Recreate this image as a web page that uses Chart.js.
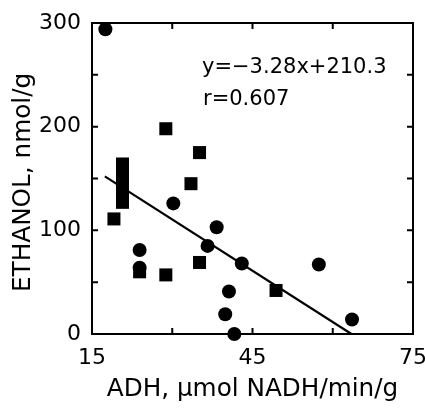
<!DOCTYPE html>
<html>
<head>
<meta charset="utf-8">
<script src="https://cdn.jsdelivr.net/npm/chart.js@4/dist/chart.umd.min.js"></script>
<style>
  html, body { margin: 0; padding: 0; background: #fff; }
  #wrap { width: 425px; height: 408px; }
</style>
</head>
<body>
<div id="wrap"><canvas id="c" width="425" height="408"></canvas></div>
<script>
// === Data ===
const circleX = [17.5, 30.2, 38.3, 36.6, 23.9, 23.9, 43.0, 57.4, 40.6, 39.9, 41.6, 63.6];
const circleY = [294, 126, 103, 85, 81, 64, 68, 67, 41, 19, 0, 14];
const squareX = [28.8, 35.1, 33.5, 19.1, 20.7, 20.7, 20.7, 20.7, 20.7, 23.9, 28.8, 35.1, 49.4];
const squareY = [198, 175, 145, 111, 164, 155, 146, 136, 127, 60, 57, 69, 42];
const lineX = [17.4, 63.5];
const lineY = [152, 0];
const xLabels = [15, 45, 75];
const yLabels = [0, 100, 200, 300];
const eqText = ["y=\u22123.28x+210.3", "r=0.607"];

const toPts = (xs, ys) => xs.map((x, i) => ({ x: x, y: ys[i] }));

// === Frame, inward ticks and equation ===
const frameTicks = {
  id: 'frameTicks',
  afterDraw(chart) {
    const ctx = chart.ctx;
    const a = chart.chartArea;
    const xs = chart.scales.x, ys = chart.scales.y;
    const len = 6;
    ctx.save();
    ctx.strokeStyle = '#000';
    ctx.lineWidth = 2;
    ctx.strokeRect(a.left, a.top, a.right - a.left, a.bottom - a.top);
    ctx.beginPath();
    ys.ticks.forEach(t => {
      if (t.value <= ys.min || t.value >= ys.max) return;
      const py = ys.getPixelForValue(t.value);
      ctx.moveTo(a.left, py); ctx.lineTo(a.left + len, py);
      ctx.moveTo(a.right, py); ctx.lineTo(a.right - len, py);
    });
    xs.ticks.forEach(t => {
      if (t.value <= xs.min || t.value >= xs.max) return;
      const px = xs.getPixelForValue(t.value);
      ctx.moveTo(px, a.bottom); ctx.lineTo(px, a.bottom - len);
      ctx.moveTo(px, a.top); ctx.lineTo(px, a.top + len);
    });
    ctx.stroke();

    ctx.fillStyle = '#000';
    ctx.font = "21px 'DejaVu Sans'";
    ctx.textBaseline = 'alphabetic';
    ctx.textAlign = 'left';
    ctx.fillText(eqText[0], 202, 73);
    ctx.fillText(eqText[1], 203, 105);
    ctx.restore();
  }
};

new Chart(document.getElementById('c'), {
  type: 'scatter',
  data: {
    datasets: [
      {
        type: 'line',
        data: toPts(lineX, lineY),
        borderColor: '#000',
        borderWidth: 2.2,
        pointRadius: 0,
        fill: false,
        clip: false
      },
      {
        data: toPts(circleX, circleY),
        pointStyle: 'circle',
        pointRadius: 7,
        backgroundColor: '#000',
        borderWidth: 0,
        clip: false
      },
      {
        data: toPts(squareX, squareY),
        pointStyle: 'rect',
        pointRadius: 9.2,
        backgroundColor: '#000',
        borderWidth: 0,
        clip: false
      }
    ]
  },
  options: {
    responsive: false,
    animation: false,
    layout: { padding: { top: 23, right: 12, left: 0, bottom: 0 } },
    plugins: {
      legend: { display: false },
      tooltip: { enabled: false }
    },
    scales: {
      x: {
        type: 'linear',
        min: 15, max: 75,
        afterFit(s) { s.height = 74; s.paddingLeft = 0; s.paddingRight = 0; },
        grid: { drawOnChartArea: false, drawTicks: false },
        border: { display: false },
        ticks: {
          stepSize: 15,
          padding: 11,
          color: '#000',
          font: { family: "'DejaVu Sans'", size: 22 },
          callback: v => xLabels.includes(v) ? String(v) : ''
        },
        title: {
          display: true,
          text: 'ADH, \u03bcmol NADH/min/g',
          color: '#000',
          font: { family: "'DejaVu Sans'", size: 24.7 },
          padding: { top: 0, bottom: 4 }
        }
      },
      y: {
        type: 'linear',
        min: 0, max: 300,
        afterFit(s) { s.width = 92; s.paddingTop = 0; s.paddingBottom = 0; },
        grid: { drawOnChartArea: false, drawTicks: false },
        border: { display: false },
        ticks: {
          stepSize: 50,
          padding: 11,
          color: '#000',
          font: { family: "'DejaVu Sans'", size: 22 },
          callback: v => yLabels.includes(v) ? String(v) : ''
        },
        title: {
          display: true,
          // trailing space nudges the rotated title down a little, as in the figure
          text: 'ETHANOL, nmol/g ',
          color: '#000',
          font: { family: "'DejaVu Sans'", size: 24.7 },
          padding: { top: 9, bottom: 0 }
        }
      }
    }
  },
  plugins: [frameTicks]
});
</script>
</body>
</html>
